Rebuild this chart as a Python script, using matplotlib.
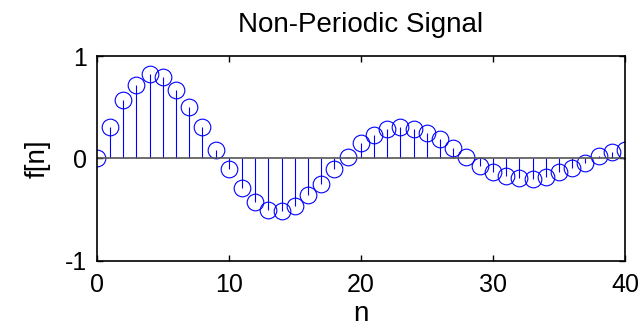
import matplotlib
matplotlib.use("Agg")
import matplotlib.pyplot as plt
import numpy as np

plt.rcParams['font.family'] = ['Liberation Sans', 'DejaVu Sans']
plt.rcParams['axes.unicode_minus'] = False

# Sample indices and signal values
n = list(range(0, 41))
f = [0.00, 0.31, 0.57, 0.72, 0.82, 0.79, 0.67, 0.50, 0.31, 0.08,
     -0.105, -0.29, -0.43, -0.50, -0.51, -0.47, -0.36, -0.25, -0.10, 0.01,
     0.15, 0.23, 0.29, 0.31, 0.29, 0.25, 0.19, 0.10, 0.01, -0.07,
     -0.13, -0.17, -0.19, -0.20, -0.18, -0.13, -0.09, -0.05, 0.02, 0.065,
     0.08]

xticks = [0, 10, 20, 30, 40]
yticks = [-1, 0, 1]

fig = plt.figure(figsize=(6.42, 3.31), dpi=100)
ax = fig.add_axes([0.1506, 0.2124, 0.8229, 0.6184])

markerline, stemlines, baseline = ax.stem(n, f)
plt.setp(markerline, marker='o', markersize=12, markerfacecolor='none',
         markeredgecolor='#0000ff', markeredgewidth=0.8)
plt.setp(stemlines, color='#0000ff', linewidth=0.8)
plt.setp(baseline, color='#555555', linewidth=1.2)
baseline.set_xdata([0, 40])

ax.set_xlim(0, 40)
ax.set_ylim(-1, 1)
ax.set_xticks(xticks)
ax.set_yticks(yticks)
ax.tick_params(direction='in', length=4, width=1, top=True, right=True,
               labelsize=18)
ax.tick_params(axis='x', pad=9)
ax.tick_params(axis='y', pad=7)
for s in ax.spines.values():
    s.set_linewidth(1.2)

ax.set_title('Non-Periodic Signal', fontsize=20, pad=17)
ax.set_xlabel('n', fontsize=20, labelpad=3)
ax.set_ylabel('f[n]', fontsize=20, labelpad=10)

fig.savefig('out.png', dpi=100)
